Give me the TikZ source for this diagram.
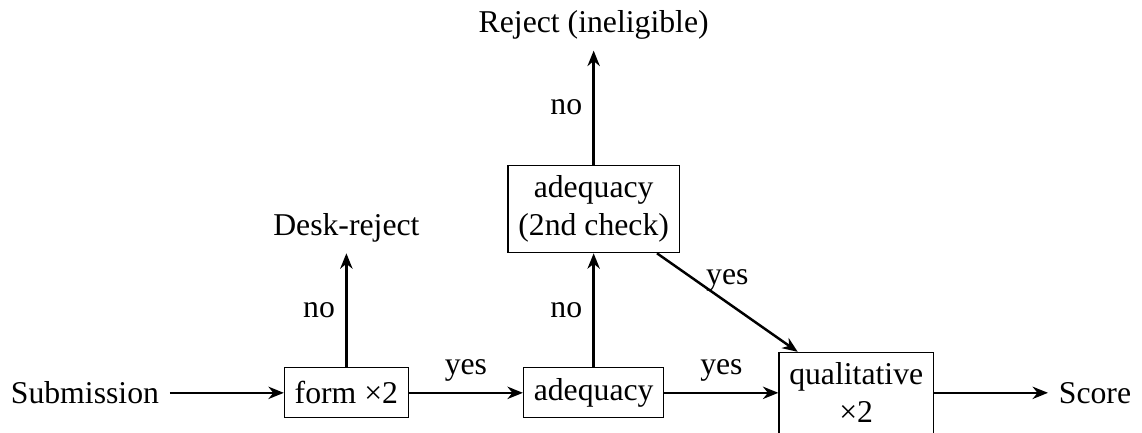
\documentclass[tikz,border=0pt]{standalone}
\usepackage{fontspec}
\setmainfont{Liberation Serif}
\usepackage{tikz}
\usetikzlibrary{arrows.meta,positioning}

\begin{document}
\begin{tikzpicture}[node distance=1.3cm,
    stage/.style={rectangle,draw,align=center,minimum height=0.57cm,
                  font=\fontsize{10.3}{12.4}\selectfont},
    ends/.style={align=center,font=\fontsize{10.3}{12.4}\selectfont},
    arrow/.style={-{Stealth[length=5pt,width=4pt,inset=1.6pt]},thick}]
\node[ends] (sub) {Submission};
\node[stage,right=of sub] (form) {form ×2};
\node[stage,right=of form] (adeq) {adequacy};
\node[stage,right=of adeq] (qual) {qualitative\\×2};
\node[ends,right=of qual] (score) {Score};
\node[ends,above=of form] (desk) {Desk-reject};
\node[stage,above=of adeq] (check) {adequacy\\(2nd check)};
\node[ends,above=of check] (rej) {Reject (ineligible)};
\draw[arrow] (sub) -- (form);
\draw[arrow] (form) -- node[midway,above,ends] {yes} (adeq);
\draw[arrow] (adeq) -- node[midway,above,ends] {yes} (qual);
\draw[arrow] (qual) -- (score);
\draw[arrow] (form) -- node[midway,left,ends] {no} (desk);
\draw[arrow] (adeq) -- node[midway,left,ends] {no} (check);
\draw[arrow] (check) -- node[midway,left,ends] {no} (rej);
\draw[arrow] (check) -- node[midway,above,ends] {yes} (qual);
% crop as in the original
\pgfresetboundingbox
\path[use as bounding box] (sub.west |- rej.north) rectangle ([yshift=-0.45cm]score.east);
\end{tikzpicture}
\end{document}
